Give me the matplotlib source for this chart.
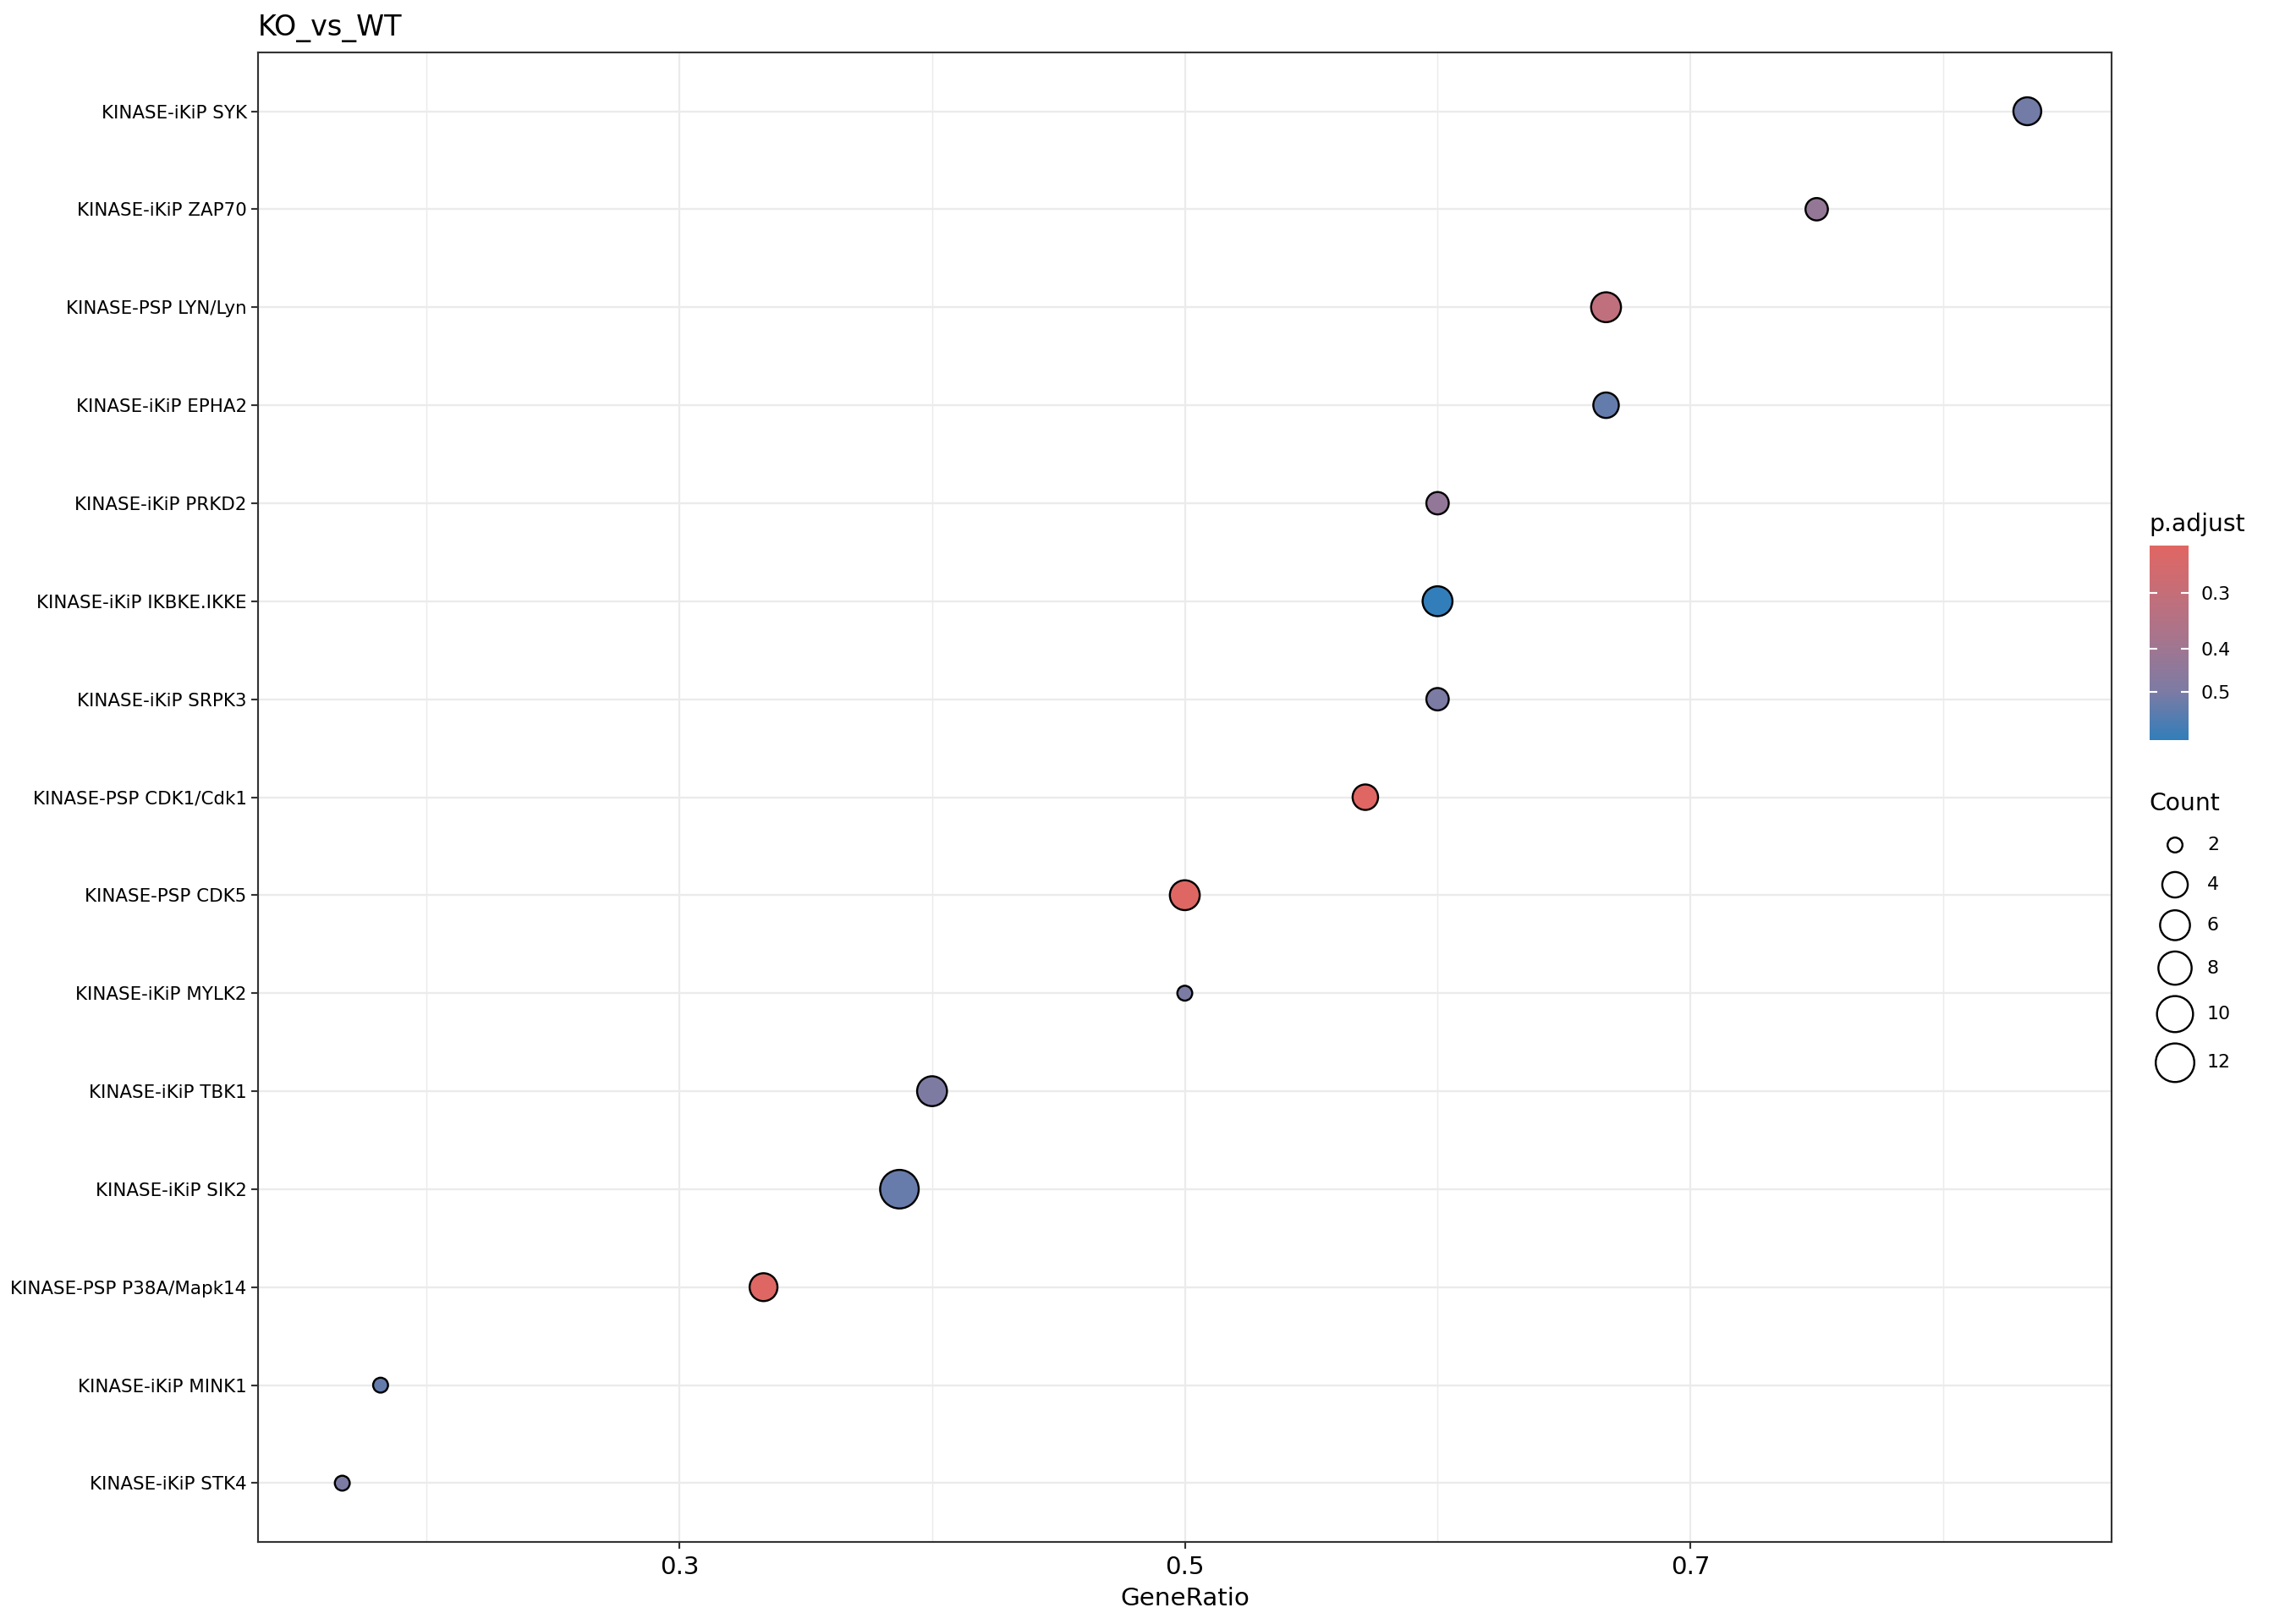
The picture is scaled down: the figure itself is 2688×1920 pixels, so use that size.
import numpy as np
import matplotlib
matplotlib.use("Agg")
import matplotlib.pyplot as plt
from matplotlib.colors import LinearSegmentedColormap, LogNorm
from matplotlib.cm import ScalarMappable
from matplotlib.ticker import NullLocator

# Data (top row first)
terms = [
    "KINASE-iKiP SYK",
    "KINASE-iKiP ZAP70",
    "KINASE-PSP LYN/Lyn",
    "KINASE-iKiP EPHA2",
    "KINASE-iKiP PRKD2",
    "KINASE-iKiP IKBKE.IKKE",
    "KINASE-iKiP SRPK3",
    "KINASE-PSP CDK1/Cdk1",
    "KINASE-PSP CDK5",
    "KINASE-iKiP MYLK2",
    "KINASE-iKiP TBK1",
    "KINASE-iKiP SIK2",
    "KINASE-PSP P38A/Mapk14",
    "KINASE-iKiP MINK1",
    "KINASE-iKiP STK4",
]
gene_ratio = [5/6, 3/4, 6/9, 4/6, 3/5, 6/10, 3/5, 4/7, 6/12, 2/4, 6/15, 12/31, 5/15, 2/11, 2/12]
counts = [5, 3, 6, 4, 3, 6, 3, 4, 6, 2, 6, 12, 5, 2, 2]
p_adjust = [0.514, 0.429, 0.311, 0.540, 0.430, 0.641, 0.497, 0.2346, 0.239,
            0.497, 0.492, 0.535, 0.239, 0.540, 0.497]

x_ticks = [0.3, 0.5, 0.7]
x_minor = [0.2, 0.4, 0.6, 0.8]
cbar_ticks = [0.3, 0.4, 0.5]
count_breaks = [2, 4, 6, 8, 10, 12]

W, H, DPI = 2688, 1920, 192
EDGE = 0.9

# red -> blue gradient (interpolated in Lab, sampled at 5 stops)
cmap = LinearSegmentedColormap.from_list(
    "padj", ["#e06663", "#c46e79", "#a4758f", "#7c7ba4", "#327eba"])
norm = LogNorm(vmin=min(p_adjust), vmax=max(p_adjust))


def marker_diam_px(c):
    c = np.asarray(c, dtype=float)
    return 20 + 28 * np.sqrt((c - min(counts)) / (max(counts) - min(counts)))


def marker_area(c):
    return (marker_diam_px(c) * 72 / DPI - EDGE) ** 2


fig = plt.figure(figsize=(W / DPI, H / DPI), dpi=DPI)
fig.patch.set_facecolor("white")

ax = fig.add_axes([305 / W, (H - 1823) / H, (2496 - 305) / W, (1823 - 62) / H])
n = len(terms)
ypos = np.arange(n, 0, -1)

ax.scatter(gene_ratio, ypos, s=marker_area(counts), c=p_adjust, cmap=cmap,
           norm=norm, edgecolors="black", linewidths=EDGE, zorder=3)

rng = max(gene_ratio) - min(gene_ratio)
ax.set_xlim(min(gene_ratio) - 0.05 * rng, max(gene_ratio) + 0.05 * rng)
ax.set_ylim(0.4, n + 0.6)

ax.set_yticks(ypos)
ax.set_yticklabels(terms, fontsize=8.0)
ax.set_xticks(x_ticks)
ax.set_xticklabels([f"{v:.1f}" for v in x_ticks], fontsize=11)
ax.set_xticks(x_minor, minor=True)

ax.grid(axis="x", which="major", color="#EBEBEB", linewidth=0.8, zorder=0)
ax.grid(axis="x", which="minor", color="#EBEBEB", linewidth=0.55, zorder=0)
ax.grid(axis="y", which="major", color="#EBEBEB", linewidth=0.9, zorder=0)
ax.set_axisbelow(True)

for sp in ax.spines.values():
    sp.set_color("#333333")
    sp.set_linewidth(0.8)
ax.tick_params(which="major", length=3, width=0.8, color="#333333")
ax.tick_params(axis="x", which="major", pad=3)
ax.tick_params(axis="y", which="major", pad=2)
ax.tick_params(which="minor", length=0)

ax.set_xlabel("GeneRatio", fontsize=11, labelpad=3.5)
ax.set_title("KO_vs_WT", loc="left", fontsize=12.5, pad=7.5)

# p.adjust colour bar
cax = fig.add_axes([2541 / W, (H - 875) / H, 46 / W, 230 / H])
cb = fig.colorbar(ScalarMappable(norm=norm, cmap=cmap), cax=cax)
cb.outline.set_visible(False)
cax.invert_yaxis()
cb.set_ticks(cbar_ticks)
cb.set_ticklabels([f"{v:.1f}" for v in cbar_ticks])
cax.yaxis.set_minor_locator(NullLocator())
cax.tick_params(which="major", direction="in", left=True, right=True,
                labelleft=False, labelright=True, length=3.4, width=0.8,
                color="white", labelsize=8.3, pad=5.5)

# overlay in pixel coordinates for legend titles and the Count legend
lax = fig.add_axes([0, 0, 1, 1], facecolor="none")
lax.set_xlim(0, W)
lax.set_ylim(H, 0)
lax.axis("off")

lax.text(2540, 628, "p.adjust", fontsize=10.6, va="baseline", ha="left")
lax.text(2540, 958, "Count", fontsize=10.6, va="baseline", ha="left")

key_h = np.maximum(46, marker_diam_px(count_breaks) + 10)
key_y = [999.0]
for i in range(1, len(count_breaks)):
    key_y.append(key_y[-1] + (key_h[i - 1] + key_h[i]) / 2 + 1)

lax.scatter([2571] * len(count_breaks), key_y, s=marker_area(count_breaks),
            facecolors="white", edgecolors="black", linewidths=EDGE)
for y, c in zip(key_y, count_breaks):
    lax.text(2609, y, str(c), fontsize=8.3, va="center", ha="left")

fig.savefig("out.png", dpi=DPI)
